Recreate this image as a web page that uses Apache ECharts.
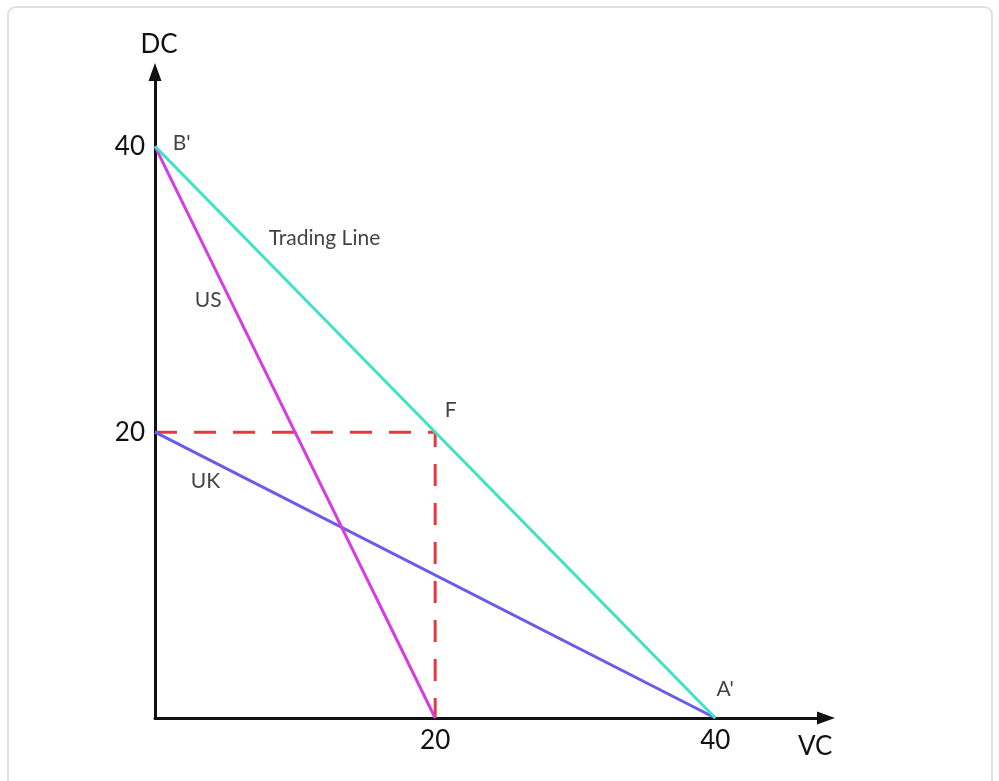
<!DOCTYPE html>
<html>
<head>
<meta charset="utf-8">
<script src="https://cdn.jsdelivr.net/npm/echarts@6/dist/echarts.min.js"></script>
<style>
  html, body { margin: 0; padding: 0; background: #fff; }
  #frame {
    position: absolute; left: 7px; top: 6px; width: 986px; height: 820px;
    border: 2px solid #e0e0e0; border-radius: 9px; box-sizing: border-box;
  }
  #chart { position: absolute; left: 0; top: 0; width: 999px; height: 781px; }
</style>
</head>
<body>
<div id="frame"></div>
<div id="chart"></div>
<script>
// Production possibilities: VC (x) vs DC (y)
const xTicks = [20, 40];
const yTicks = [20, 40];

const tradingLine = [[0, 40], [40, 0]];
const usLine = [[0, 40], [20, 0]];
const ukLine = [[0, 20], [40, 0]];
const consumptionGuide = [[0, 20], [20, 20], [20, 0]];

// Annotation texts and where they sit, in axis units
const noteTexts = ["B'", "Trading Line", "US", "F", "UK", "A'"];
const noteX = [1.9, 12.1, 3.8, 21.1, 3.6, 40.7];
const noteY = [40.2, 33.6, 29.2, 21.5, 16.6, 2.0];

const fontFamily = 'Lato, "Noto Sans", sans-serif';
const chart = echarts.init(document.getElementById('chart'), null, { renderer: 'canvas' });

const axisCommon = {
  type: 'value',
  min: 0,
  splitLine: { show: false },
  axisTick: { show: false },
  axisLine: {
    show: true,
    symbol: ['none', 'triangle'],
    symbolSize: [13, 18],
    lineStyle: { color: '#111', width: 3 }
  }
};

chart.setOption({
  animation: false,
  backgroundColor: 'transparent',
  grid: { left: 155, top: 72, width: 671, height: 646, containLabel: false, outerBoundsMode: 'none' },
  xAxis: Object.assign({}, axisCommon, {
    max: 47.9,
    name: 'VC',
    nameLocation: 'end',
    nameGap: -28,
    nameTextStyle: { fontSize: 26, color: '#111', fontFamily: fontFamily, verticalAlign: 'top', padding: [16, 0, 0, 0] },
    axisLabel: { customValues: xTicks, fontSize: 26, color: '#111', fontFamily: fontFamily, margin: 10 }
  }),
  yAxis: Object.assign({}, axisCommon, {
    max: 45.2,
    name: 'DC',
    nameLocation: 'end',
    nameGap: 14,
    nameTextStyle: { fontSize: 26, color: '#111', fontFamily: fontFamily, align: 'center', padding: [0, 0, 0, 8] },
    axisLabel: { customValues: yTicks, fontSize: 26, color: '#111', fontFamily: fontFamily, margin: 10 }
  }),
  series: [
    {
      type: 'line', data: consumptionGuide, showSymbol: false, silent: true,
      lineStyle: { color: '#e8383f', width: 3, type: [22, 17] }
    },
    {
      type: 'line', data: ukLine, showSymbol: false, silent: true,
      lineStyle: { color: '#6a5be8', width: 3 }
    },
    {
      type: 'line', data: usLine, showSymbol: false, silent: true,
      lineStyle: { color: '#d43de2', width: 3 }
    },
    {
      type: 'line', data: tradingLine, showSymbol: false, silent: true,
      lineStyle: { color: '#40e2c4', width: 3 }
    },
    {
      type: 'scatter', silent: true, symbolSize: 1,
      itemStyle: { color: 'transparent' },
      data: noteTexts.map((t, i) => ({ name: t, value: [noteX[i], noteY[i]] })),
      label: {
        show: true, position: 'inside', formatter: p => p.name,
        fontSize: 21, color: '#111', fontFamily: fontFamily
      }
    }
  ]
});
</script>
</body>
</html>
